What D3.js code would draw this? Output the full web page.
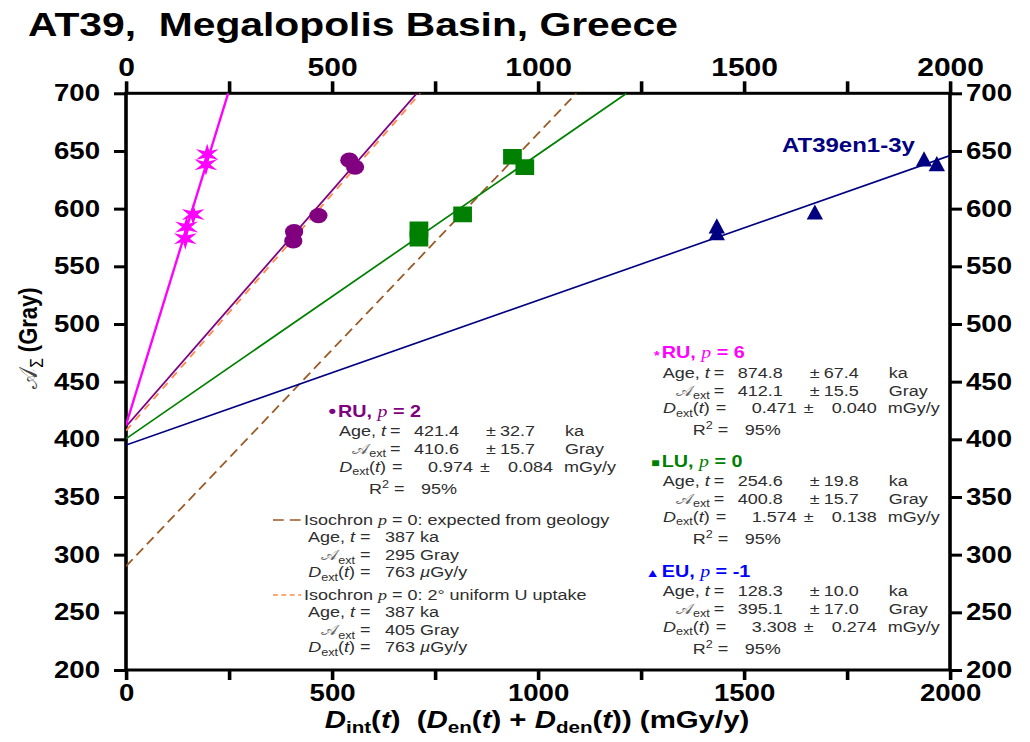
<!DOCTYPE html>
<html>
<head>
<meta charset="utf-8">
<script src="https://cdn.jsdelivr.net/npm/d3@7"></script>
<style>
  body { margin: 0; background: #fff; }
  svg { display: block; }
  text { font-family: "Liberation Sans", Arial, sans-serif; }
</style>
</head>
<body>
<svg id="chart" width="1030" height="742"></svg>
<script>
// values
var xTicks = [0, 250, 500, 750, 1000, 1250, 1500, 1750, 2000]
var xLabels = [0, 500, 1000, 1500, 2000]
var yTicks = [200, 250, 300, 350, 400, 450, 500, 550, 600, 650, 700]

var ruP6 = [[197, 647], [194, 638], [163, 595], [147, 584], [144, 574]]
var ruP2 = [[542, 642], [556, 636], [467, 594], [408, 580], [406, 572]]
var luP0 = [[938, 645], [968, 636], [817, 595], [711, 582], [711, 574]]
var euM1 = [[1937, 641], [1968, 637], [1672, 595], [1434, 583], [1434, 577]]

var ruP6Fit = [[0, 412.5], [248, 700]]
var ruP2Fit = [[0, 411], [706, 700]]
var luP0Fit = [[0, 400.5], [1215, 700]]
var euM1Fit = [[0, 395], [2000, 646]]
var isoGeology = [[0, 290], [1093, 700]]
var isoUptake = [[0, 407.5], [714, 700]]

var blockHeads = ['RU,', 'RU,', 'LU,', 'EU,']
var blockP = ['2', '6', '0', '-1']
var blockAge = [['421.4', '32.7'], ['874.8', '67.4'], ['254.6', '19.8'], ['128.3', '10.0']]
var blockAext = [['410.6', '15.7'], ['412.1', '15.5'], ['400.8', '15.7'], ['395.1', '17.0']]
var blockDext = [['0.974', '0.084'], ['0.471', '0.040'], ['1.574', '0.138'], ['3.308', '0.274']]
var blockR2 = ['95%', '95%', '95%', '95%']

var isoNotes = ['expected from geology', '2\u00b0 uniform U uptake']
var isoAge = ['387', '387']
var isoAext = ['295', '405']
var isoDext = ['763', '763']

// the reference picture is stretched sideways, so draw in a stretched group
var S = 1.2
function sx(v) { return v / S }

var svg = d3.select('#chart')
var root = svg.append('g').attr('transform', 'scale(' + S + ',1)')

var x = d3.scaleLinear().domain([0, 2000]).range([sx(126), sx(950)])
var y = d3.scaleLinear().domain([200, 700]).range([670, 93.3])

var SCRIPT_A = '\ud835\udc9c'
var textCol = '#2e2e2e'

// tspans with sub / superscripts
function rich(sel, parts, base) {
  var shift = 0
  parts.forEach(function (p) {
    var target = p.sub ? 0.22 : (p.sup ? -0.4 : 0)
    var ts = sel.append('tspan').text(p.t)
    var dy = (target - shift) * base
    if (dy) ts.attr('dy', dy)
    shift = target
    if (p.i) ts.attr('font-style', 'italic')
    if (p.sub || p.sup) ts.attr('font-size', base * 0.7)
    if (p.b) ts.attr('font-weight', 'bold')
    if (p.n) ts.attr('font-weight', 'normal')
    if (p.f) ts.attr('font-family', p.f)
    if (p.c) ts.attr('fill', p.c)
  })
  return sel
}

function label(g, px, py, anchor, size) {
  return g.append('text')
    .attr('x', sx(px)).attr('y', py)
    .attr('text-anchor', anchor || 'start')
    .attr('font-size', size)
}

// title
label(root, 28, 36, 'start', 34)
  .attr('font-weight', 'bold')
  .text('AT39,\u00a0 Megalopolis Basin, Greece')

// frame
root.append('rect')
  .attr('x', x(0)).attr('y', y(700))
  .attr('width', x(2000) - x(0)).attr('height', y(200) - y(700))
  .attr('fill', 'none').attr('stroke', '#000').attr('stroke-width', 3)

function styleAxis(g, size) {
  g.select('.domain').remove()
  g.selectAll('line').attr('stroke', '#000').attr('stroke-width', 3)
  g.selectAll('text')
    .attr('font-size', size).attr('font-weight', 'bold')
    .attr('font-family', '"Liberation Sans", Arial, sans-serif')
    .attr('fill', '#000')
}

var fmtX = function (d) { return xLabels.indexOf(d) >= 0 ? d : '' }
var fmtY = function (d) { return d }

root.append('g')
  .attr('transform', 'translate(0,' + y(700) + ')')
  .call(d3.axisTop(x).tickValues(xTicks).tickSize(12).tickSizeOuter(0).tickPadding(5).tickFormat(fmtX))
  .call(styleAxis, 25)

root.append('g')
  .attr('transform', 'translate(0,' + y(200) + ')')
  .call(d3.axisBottom(x).tickValues(xTicks).tickSize(10).tickSizeOuter(0).tickPadding(5).tickFormat(fmtX))
  .call(styleAxis, 23)

root.append('g')
  .attr('transform', 'translate(' + x(0) + ',0)')
  .call(d3.axisLeft(y).tickValues(yTicks).tickSize(sx(12)).tickSizeOuter(0).tickPadding(sx(14)).tickFormat(fmtY))
  .call(styleAxis, 23)

root.append('g')
  .attr('transform', 'translate(' + x(2000) + ',0)')
  .call(d3.axisRight(y).tickValues(yTicks).tickSize(sx(12)).tickSizeOuter(0).tickPadding(sx(4)).tickFormat(fmtY))
  .call(styleAxis, 23)

// axis titles
rich(label(root, 537, 728, 'middle', 24.5).attr('font-weight', 'bold'), [
  { t: 'D', i: 1 }, { t: 'int', sub: 1 }, { t: '(' }, { t: 't', i: 1 }, { t: ')\u00a0\u00a0(' },
  { t: 'D', i: 1 }, { t: 'en', sub: 1 }, { t: '(' }, { t: 't', i: 1 }, { t: ') + ' },
  { t: 'D', i: 1 }, { t: 'den', sub: 1 }, { t: '(' }, { t: 't', i: 1 }, { t: ')) (mGy/y)' }
], 24.5)

rich(root.append('text')
  .attr('transform', 'translate(' + sx(37) + ',338) rotate(-90)')
  .attr('text-anchor', 'middle').attr('font-size', 22).attr('font-weight', 'bold'), [
  { t: SCRIPT_A, n: 1, c: '#444' }, { t: '\u03a3', sub: 1, n: 1 }, { t: ' (Gray)' }
], 22)

// fit lines and isochrons
var clip = root.append('clipPath').attr('id', 'plotClip')
clip.append('rect')
  .attr('x', x(0)).attr('y', y(700))
  .attr('width', x(2000) - x(0)).attr('height', y(200) - y(700))

var line = d3.line().x(function (d) { return x(d[0]) }).y(function (d) { return y(d[1]) })
var plot = root.append('g').attr('clip-path', 'url(#plotClip)')

var fits = [
  { d: isoGeology, c: '#9a5a26', w: 1.6, dash: '9,5' },
  { d: isoUptake, c: '#ff8a4a', w: 1.6, dash: '7,6' },
  { d: euM1Fit, c: '#000080', w: 1.6 },
  { d: luP0Fit, c: '#008000', w: 1.6 },
  { d: ruP2Fit, c: '#800080', w: 1.6 },
  { d: ruP6Fit, c: '#ff00ff', w: 2 }
]
fits.forEach(function (f) {
  plot.append('path')
    .attr('d', line(f.d))
    .attr('fill', 'none')
    .attr('stroke', f.c)
    .attr('stroke-width', f.w)
    .attr('stroke-dasharray', f.dash || null)
})

// marker shapes
function starPath(ro, ri, n) {
  var p = d3.path()
  for (var k = 0; k < 2 * n; k++) {
    var a = k * Math.PI / n - Math.PI / 2
    var r = k % 2 ? ri : ro
    if (k === 0) p.moveTo(r * Math.cos(a), r * Math.sin(a))
    else p.lineTo(r * Math.cos(a), r * Math.sin(a))
  }
  p.closePath()
  return p.toString()
}
var shapes = {
  star: starPath(11, 3.8, 6),
  circle: d3.symbol(d3.symbolCircle, Math.PI * 7.6 * 7.6)(),
  square: 'M-7.8,-7.8H7.8V7.8H-7.8Z',
  triangle: 'M0,-10L6.8,5.2L-6.8,5.2Z'
}

function drawPoints(data, shape, color) {
  plot.selectAll(null)
    .data(data)
    .enter().append('path')
    .attr('d', shapes[shape])
    .attr('transform', function (d) { return 'translate(' + x(d[0]) + ',' + y(d[1]) + ')' })
    .attr('fill', color)
}
drawPoints(ruP6, 'star', '#ff00ff')
drawPoints(ruP2, 'circle', '#800080')
drawPoints(luP0, 'square', '#008000')
drawPoints(euM1, 'triangle', '#000080')

label(root, 782, 151.7, 'start', 20)
  .attr('font-weight', 'bold').attr('fill', '#000080')
  .text('AT39en1-3y')

// stat blocks
var blockPos = [[338, 416.7], [661.7, 358.3], [661.7, 466.7], [661.7, 576.7]]
var blockColor = ['#800080', '#ff00ff', '#008000', '#0000ff']
var blockSym = ['\u2022', '*', '\u25a0', '\u25b2']
var SERIF = '"Liberation Serif", "Times New Roman", serif'

function ageLabel(g, px, py, size) {
  rich(label(g, px, py, 'end', size).attr('fill', textCol), [{ t: 'Age, ' }, { t: 't', i: 1 }], size)
}
function aextLabel(g, px, py, size) {
  rich(label(g, px, py, 'end', size).attr('fill', textCol), [{ t: SCRIPT_A, c: '#666' }, { t: 'ext', sub: 1 }], size)
}
function dextLabel(g, px, py, size) {
  rich(label(g, px, py, 'end', size).attr('fill', textCol), [
    { t: 'D', i: 1 }, { t: 'ext', sub: 1 }, { t: '(' }, { t: 't', i: 1 }, { t: ')' }
  ], size)
}

function plain(g, px, py, anchor, str) {
  label(g, px, py, anchor, 15).attr('fill', textCol).text(str)
}

blockHeads.forEach(function (head, i) {
  var x0 = blockPos[i][0], y0 = blockPos[i][1]
  var g = root.append('g')
  var col = blockColor[i]
  label(g, x0 - 2, y0, 'end', i === 0 ? 18 : 12).attr('fill', col).attr('font-weight', 'bold')
    .attr('dy', i === 1 ? 2 : 0)
    .text(blockSym[i])
  rich(label(g, x0, y0, 'start', 16.5).attr('fill', col).attr('font-weight', 'bold'), [
    { t: head + ' ' }, { t: 'p', i: 1, n: 1, f: SERIF }, { t: ' = ' + blockP[i] }
  ], 16.5)

  var r1 = y0 + 19.5, r2 = y0 + 37.5, r3 = y0 + 55, r4 = y0 + 77
  ageLabel(g, x0 + 48, r1, 15)
  plain(g, x0 + 52, r1, 'start', '=')
  plain(g, x0 + 121, r1, 'end', blockAge[i][0])
  plain(g, x0 + 148, r1, 'start', '\u00b1')
  plain(g, x0 + 197, r1, 'end', blockAge[i][1])
  plain(g, x0 + 227, r1, 'start', 'ka')

  aextLabel(g, x0 + 48, r2, 15)
  plain(g, x0 + 52, r2, 'start', '=')
  plain(g, x0 + 121, r2, 'end', blockAext[i][0])
  plain(g, x0 + 148, r2, 'start', '\u00b1')
  plain(g, x0 + 197, r2, 'end', blockAext[i][1])
  plain(g, x0 + 227, r2, 'start', 'Gray')

  dextLabel(g, x0 + 48, r3, 15)
  plain(g, x0 + 54, r3, 'start', '=')
  plain(g, x0 + 135, r3, 'end', blockDext[i][0])
  plain(g, x0 + 142, r3, 'start', '\u00b1')
  plain(g, x0 + 215, r3, 'end', blockDext[i][1])
  plain(g, x0 + 226, r3, 'start', 'mGy/y')

  rich(label(g, x0 + 31, r4, 'start', 15).attr('fill', textCol), [{ t: 'R' }, { t: '2', sup: 1 }], 15)
  plain(g, x0 + 56, r4, 'start', '=')
  plain(g, x0 + 83, r4, 'start', blockR2[i])
})

// isochron notes
var isoPos = [525, 600]
var isoColor = ['#9a5a26', '#ff8a4a']
var isoDash = ['9,5', '4,3']
isoNotes.forEach(function (note, i) {
  var y0 = isoPos[i]
  var g = root.append('g')
  g.append('line')
    .attr('x1', sx(273)).attr('x2', sx(301))
    .attr('y1', y0 - 5).attr('y2', y0 - 5)
    .attr('stroke', isoColor[i]).attr('stroke-width', 1.6)
    .attr('stroke-dasharray', isoDash[i])
  rich(label(g, 304, y0, 'start', 15).attr('fill', textCol), [
    { t: 'Isochron ' }, { t: 'p', i: 1, f: SERIF }, { t: ' = 0: ' + note }
  ], 15)
  ageLabel(g, 355, y0 + 17.5, 15)
  plain(g, 360, y0 + 17.5, 'start', '=')
  plain(g, 385, y0 + 17.5, 'start', isoAge[i] + ' ka')
  aextLabel(g, 355, y0 + 35.5, 15)
  plain(g, 360, y0 + 35.5, 'start', '=')
  plain(g, 385, y0 + 35.5, 'start', isoAext[i] + ' Gray')
  dextLabel(g, 355, y0 + 52.5, 15)
  plain(g, 360, y0 + 52.5, 'start', '=')
  rich(label(g, 385, y0 + 52.5, 'start', 15).attr('fill', textCol), [
    { t: isoDext[i] + ' ' }, { t: '\u00b5', i: 1 }, { t: 'Gy/y' }
  ], 15)
})
</script>
</body>
</html>
